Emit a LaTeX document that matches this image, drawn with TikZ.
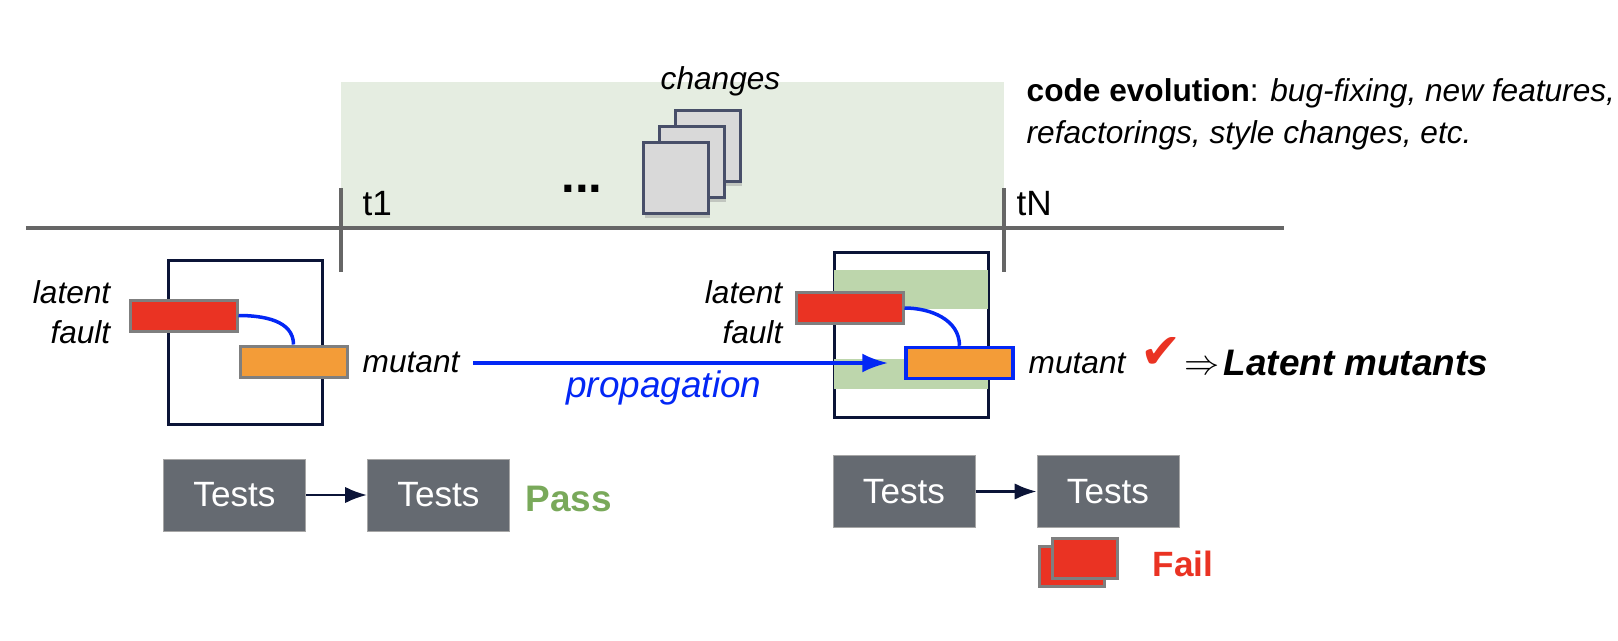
\documentclass[tikz,border=0pt]{standalone}
\usepackage{fontspec}
\setmainfont{Liberation Sans}
\newfontfamily\symfont{DejaVu Sans}
\usetikzlibrary{arrows.meta, calc, positioning, shadows}
\tikzset{>={Latex}}
\definecolor{bandgreen}{HTML}{E5EDE1}
\definecolor{bargreen}{HTML}{BDD6AC}
\definecolor{faultred}{HTML}{EA3323}
\definecolor{mutantorange}{HTML}{F39C38}
\definecolor{testgray}{HTML}{656A71}
\definecolor{linegray}{HTML}{666666}
\definecolor{edgegray}{HTML}{7F7F7F}
\definecolor{navy}{HTML}{0B1437}
\definecolor{flowblue}{HTML}{0327F5}
\definecolor{passgreen}{HTML}{79A95A}
\tikzset{
  txt/.style={font=\fontsize{9}{11.1}\selectfont\itshape, inner sep=0pt},
  codebox/.style={draw=navy, line width=0.3mm, minimum width=1.54cm, inner sep=0pt},
  bar/.style={fill=bargreen, minimum width=1.54cm, inner sep=0pt},
  faultbox/.style={draw=edgegray, line width=0.3mm, fill=faultred, minimum width=1.07cm, minimum height=0.31cm, inner sep=0pt},
  mutantbox/.style={draw=edgegray, line width=0.3mm, fill=mutantorange, minimum width=1.07cm, minimum height=0.31cm, inner sep=0pt},
  testbox/.style={fill=testgray, draw=gray!70, line width=0.1mm, text=white, minimum width=1.42cm, minimum height=0.72cm, inner sep=0pt, font=\fontsize{10}{12}\selectfont},
  changebox/.style={draw=navy!75, line width=0.3mm, fill=gray!30, minimum width=0.65cm, minimum height=0.71cm, inner sep=0pt,
    drop shadow={opacity=0.35, shadow xshift=0.2mm, shadow yshift=-0.5mm}},
  failbox/.style={draw=edgegray, line width=0.3mm, fill=faultred, minimum width=0.65cm, minimum height=0.40cm, inner sep=0pt},
  flow/.style={flowblue, line width=0.35mm},
  tick/.style={linegray, line width=0.35mm}
}

\begin{document}
\begin{tikzpicture}
\useasboundingbox (0,0) rectangle (16.18,6.4);

% Evolution band
\fill[bandgreen] (3.41,5.58) rectangle (10.04,4.12);

% Pile of changes
\foreach \name/\x/\y in {back/7.075/4.945, mid/6.915/4.785, front/6.755/4.625} {
  \node[changebox] (\name) at (\x,\y) {};
}
\node[txt, anchor=base west] (changes) at (6.60,5.51) {changes};
\node[inner sep=0pt, font=\fontsize{14}{14}\selectfont\bfseries, anchor=base] (dots) at (5.82,4.48) {...};

% Timeline
\draw[tick] (0.26,4.12) -- (12.84,4.12);
\foreach \x in {3.41,10.04} {
  \draw[tick] (\x,4.52) -- (\x,3.68);
}
\node[inner sep=0pt, font=\fontsize{10}{12}\selectfont, anchor=base west] (tone) at (3.62,4.25) {t1};
\node[inner sep=0pt, font=\fontsize{10}{12}\selectfont, anchor=base west] (tlast) at (10.16,4.25) {tN};

% Evolution note
\node[txt, font=\fontsize{9}{12}\selectfont, align=left, anchor=north west] (note) at (10.26,5.62)
  {\textbf{code evolution}: \textit{bug-fixing, new features,}\\\textit{refactorings, style changes, etc.}};

% Version at t1
\node[codebox, minimum height=1.64cm] (codeL) at (2.45,2.98) {};
\node[faultbox] (faultL) at (1.835,3.245) {};
\node[mutantbox] (mutantboxL) at (2.935,2.785) {};
\draw[flow] (faultL.east) to[out=0, in=90] (mutantboxL.north);
\node[txt, align=right, anchor=base east] (latentL) at (1.11,2.97) {latent\\fault};
\node[txt, anchor=base west] (mutantL) at (3.62,2.68) {mutant};

% Version at tN
\node[codebox, minimum height=1.65cm] (codeR) at (9.11,3.055) {};
\node[bar, minimum height=0.39cm] (barA) at (9.11,3.505) {};
\node[bar, minimum height=0.30cm] (barB) at (9.11,2.66) {};
\node[faultbox] (faultR) at (8.495,3.32) {};
\node[mutantbox, draw=flowblue, line width=0.35mm] (mutantboxR) at (9.595,2.77) {};
\draw[flow] (faultR.east) to[out=0, in=90] (mutantboxR.north);
\node[txt, align=right, anchor=base east] (latentR) at (7.83,2.97) {latent\\fault};
\node[txt, anchor=base west] (mutantR) at (10.28,2.67) {mutant};

% Propagation
\draw[flow, -{Latex[length=2.6mm, width=1.9mm]}, shorten <=1.3mm, shorten >=1.6mm]
  (mutantL.east |- mutantboxR.west) -- (mutantboxR.west);
\node[inner sep=0pt, text=flowblue, font=\fontsize{10.5}{12}\selectfont\itshape, anchor=base east] (prop) at (7.62,2.43) {propagation};

% Outcome
\node[inner sep=0pt, text=faultred, font=\fontsize{14}{14}\selectfont\symfont, anchor=center] (check) at (11.61,2.87) {✔};
\node[inner sep=0pt, font=\fontsize{10}{12}\selectfont, anchor=base west] (implies) at (11.84,2.66) {$\Rightarrow$};
\node[inner sep=0pt, font=\fontsize{10.5}{12}\selectfont\bfseries\itshape, anchor=base west] (result) at (12.23,2.65) {Latent mutants};

% Tests
\node[testbox] (testA) at (2.345,1.45) {Tests};
\node[testbox] (testB) at (4.385,1.45) {Tests};
\node[testbox] (testC) at (9.04,1.485) {Tests};
\node[testbox] (testD) at (11.08,1.485) {Tests};
\draw[->, navy, line width=0.25mm] (testA) -- (testB);
\draw[->, navy, line width=0.25mm] (testC) -- (testD);
\node[inner sep=0pt, text=passgreen, font=\fontsize{10.5}{12}\selectfont\bfseries, anchor=base west] (pass) at (5.25,1.29) {Pass};

% Failures
\node[failbox] (failA) at (10.715,0.735) {};
\node[failbox] (failB) at (10.845,0.82) {};
\node[inner sep=0pt, text=faultred, font=\fontsize{10}{12}\selectfont\bfseries, anchor=base west] (fail) at (11.52,0.64) {Fail};

\end{tikzpicture}
\end{document}
